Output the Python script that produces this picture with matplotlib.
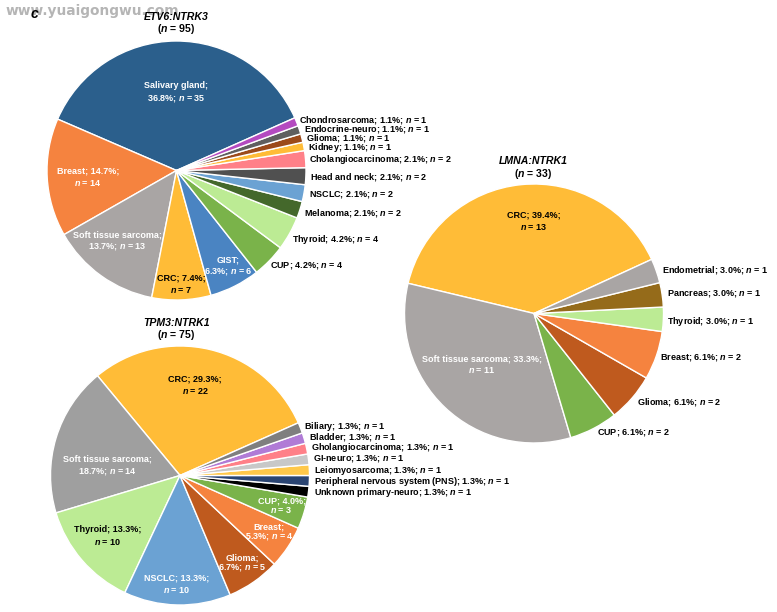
import matplotlib
matplotlib.use("Agg")
import matplotlib.pyplot as plt

plt.rcParams['font.family'] = ['Liberation Sans', 'DejaVu Sans']
plt.rcParams['mathtext.fontset'] = 'custom'
plt.rcParams['mathtext.rm'] = 'Liberation Sans:bold'
plt.rcParams['mathtext.it'] = 'Liberation Sans:italic:bold'
plt.rcParams['mathtext.bf'] = 'Liberation Sans:bold'

# ---------- data ----------
etv6_names = ["Salivary gland", "Breast", "Soft tissue sarcoma", "CRC", "GIST", "CUP", "Thyroid",
              "Melanoma", "NSCLC", "Head and neck", "Cholangiocarcinoma", "Kidney", "Glioma",
              "Endocrine-neuro", "Chondrosarcoma"]
etv6_counts = [35, 14, 13, 7, 6, 4, 4, 2, 2, 2, 2, 1, 1, 1, 1]
etv6_pct = ["36.8", "14.7", "13.7", "7.4", "6.3", "4.2", "4.2", "2.1", "2.1", "2.1", "2.1", "1.1", "1.1", "1.1", "1.1"]
etv6_colors = ["#2B5F8C", "#F5833F", "#A9A5A4", "#FFBC37", "#4A84C2", "#7AB34A", "#BCEB94",
               "#44682B", "#6BA2D3", "#505050", "#FF8088", "#FFBC37", "#9C4A1A", "#5F5F5F", "#B44AC0"]

tpm3_names = ["CRC", "Soft tissue sarcoma", "Thyroid", "NSCLC", "Glioma", "Breast", "CUP",
              "Unknown primary-neuro", "Peripheral nervous system (PNS)", "Leiomyosarcoma", "GI-neuro",
              "Gholangiocarcinoma", "Bladder", "Biliary"]
tpm3_counts = [22, 14, 10, 10, 5, 4, 3, 1, 1, 1, 1, 1, 1, 1]
tpm3_pct = ["29.3", "18.7", "13.3", "13.3", "6.7", "5.3", "4.0", "1.3", "1.3", "1.3", "1.3", "1.3", "1.3", "1.3"]
tpm3_colors = ["#FFBC37", "#9F9F9F", "#BCEB94", "#6BA2D3", "#BF5A1E", "#F5833F", "#7AB34A",
               "#000000", "#2A4472", "#FFC84A", "#C8C8C8", "#FF8088", "#B07BD6", "#7F7F7F"]

lmna_names = ["CRC", "Soft tissue sarcoma", "CUP", "Glioma", "Breast", "Thyroid", "Pancreas", "Endometrial"]
lmna_counts = [13, 11, 2, 2, 2, 1, 1, 1]
lmna_pct = ["39.4", "33.3", "6.1", "6.1", "6.1", "3.0", "3.0", "3.0"]
lmna_colors = ["#FFBC37", "#A9A5A4", "#7AB34A", "#BF5A1E", "#F5833F", "#BCEB94", "#956B1A", "#A9A5A4"]

# ---------- layout (pixels, y measured from the top) ----------
# inside: index -> (x, y, colour, break style, half line gap)
W, H = 777, 612
FS = 6.5
etv6_layout = dict(center=(176.5, 170.5), start=24.0, title=(176.5, 17, 29.5), title_name="ETV6:NTRK3",
    inside={0: (176.5, 92, 'w', 1, 6), 1: (88, 177, 'w', 2, 6), 2: (117.5, 240.5, 'w', 1, 5.5),
            3: (181, 284, 'k', 2, 6), 4: (228.5, 265.5, 'w', 1, 5.3)},
    outside={5: (270.5, 266), 6: (291.7, 239), 7: (303.7, 213), 8: (308.7, 195), 9: (310.3, 177),
             10: (309.3, 159), 11: (308.3, 147), 12: (306, 138), 13: (303.7, 129), 14: (298.7, 120)})
tpm3_layout = dict(center=(180, 475.5), start=24.0, title=(176.7, 322.5, 334.7), title_name="TPM3:NTRK1",
    inside={0: (195.3, 385, 'k', 2, 6), 1: (107.7, 465, 'w', 1, 6), 2: (108, 536, 'k', 2, 6), 3: (177, 584, 'w', 2, 6),
            4: (242.7, 562.5, 'w', 1, 4.5), 5: (269.3, 531.5, 'w', 1, 4.5), 6: (281.7, 505.5, 'w', 2, 4.5)},
    outside={7: (313.7, 492), 8: (313.7, 481), 9: (313.7, 470), 10: (312.7, 458.7), 11: (311, 447),
             12: (308.7, 436.7), 13: (304, 426)})
lmna_layout = dict(center=(534, 313.5), start=24.7, title=(533.7, 161, 173.7), title_name="LMNA:NTRK1",
    inside={0: (533.7, 220.7, 'k', 2, 6), 1: (481.7, 364.5, 'w', 2, 5.5)},
    outside={2: (597, 433), 3: (637.3, 401.7), 4: (659.7, 358), 5: (667.3, 321), 6: (666.7, 294), 7: (661.7, 270)})

fig = plt.figure(figsize=(W / 100, H / 100), dpi=100)
ax = fig.add_axes([0, 0, 1, 1])
ax.set_xlim(0, W)
ax.set_ylim(0, H)
ax.axis('off')


def Y(py):
    return H - py


NT = r"$\mathit{n}$ = "


def draw(names, counts, pct, colors, lay):
    cx, cy = lay['center']
    ax.pie(counts, colors=colors, startangle=lay['start'], counterclock=True, center=(cx, Y(cy)),
           radius=129.5, wedgeprops=dict(edgecolor='white', linewidth=1.0), frame=True)
    for i, (x, y, c, b, gap) in lay['inside'].items():
        if b == 1:
            lines = [f"{names[i]};", f"{pct[i]}%; {NT}{counts[i]}"]
        else:
            lines = [f"{names[i]}; {pct[i]}%;", f"{NT}{counts[i]}"]
        col = 'white' if c == 'w' else 'black'
        ax.text(x, Y(y - gap - 1), lines[0], color=col, ha='center', va='center_baseline', fontsize=FS, fontweight='bold')
        ax.text(x, Y(y + gap - 1), lines[1], color=col, ha='center', va='center_baseline', fontsize=FS, fontweight='bold')
    for i, (x, y) in lay['outside'].items():
        ax.text(x, Y(y - 1.8), f"{names[i]}; {pct[i]}%; {NT}{counts[i]}", color='black', ha='left', va='center_baseline',
                fontsize=FS, fontweight='bold')
    tx, ty1, ty2 = lay['title']
    ax.text(tx, Y(ty1), lay['title_name'], ha='center', va='center', fontsize=7.6, fontweight='bold', style='italic')
    ax.text(tx, Y(ty2), rf"($\mathit{{n}}$ = {sum(counts)})", ha='center', va='center', fontsize=7.6, fontweight='bold')


draw(etv6_names, etv6_counts, etv6_pct, etv6_colors, etv6_layout)
draw(tpm3_names, tpm3_counts, tpm3_pct, tpm3_colors, tpm3_layout)
draw(lmna_names, lmna_counts, lmna_pct, lmna_colors, lmna_layout)

ax.set_xlim(0, W)
ax.set_ylim(0, H)
ax.set_aspect('auto')
ax.axis('off')

ax.text(6, Y(10.5), "www.yuaigongwu.com", color='#B5B5B5', fontsize=9.9, fontweight='bold', family='DejaVu Sans',
        ha='left', va='center', zorder=0)
ax.text(34, Y(14.5), "c", color='black', fontsize=10, fontweight='bold', style='italic', ha='center', va='center')

fig.savefig("out.png", dpi=100)
